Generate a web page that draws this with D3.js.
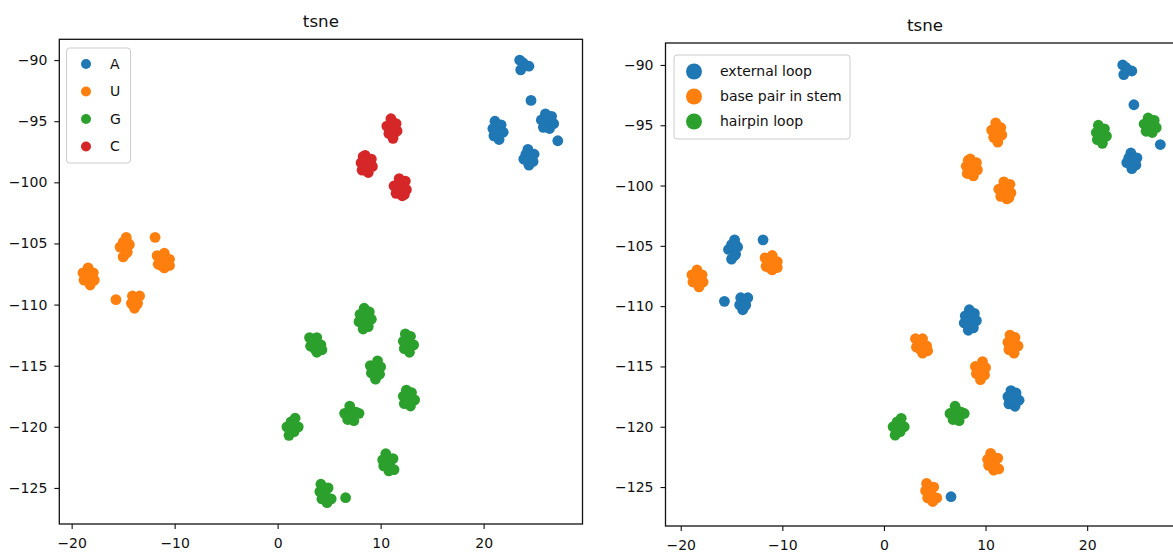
<!DOCTYPE html>
<html lang="en">
<head>
    <meta charset="UTF-8">
    <title>tsne</title>
    <script src="https://cdn.jsdelivr.net/npm/d3@7"></script>
    <style type="text/css">
        html, body {
            margin: 0;
            padding: 0;
            background: white;
            overflow: hidden;
        }
        text {
            font-family: "DejaVu Sans", sans-serif;
            fill: #111;
        }
        .axis text {
            font-size: 14px;
        }
        .axis line {
            stroke: #111;
            stroke-width: 1.1;
        }
        .axis path.domain {
            stroke: none;
        }
        .frame {
            fill: none;
            stroke: #111;
            stroke-width: 1.3;
        }
        .title {
            font-size: 16.7px;
        }
        .legend rect {
            fill: white;
            fill-opacity: 0.8;
            stroke: #cccccc;
            stroke-width: 1;
        }
        .legend text {
            font-size: 14px;
        }
    </style>
</head>
<body>
<svg id="chart" width="1173" height="553"></svg>
<script>
    // points of every t-SNE cluster
    var clusterPoints = [
        [[23.5, -90.0], [23.6, -90.8], [24.0, -90.4], [24.4, -90.5], [23.8, -90.2]],
        [[24.6, -93.3]],
        [[21.1, -95.0], [21.7, -95.3], [21.9, -95.9], [21.5, -96.5], [21.0, -96.2], [20.9, -95.6], [21.4, -95.8], [21.3, -95.3], [21.6, -96.0], [21.1, -95.9]],
        [[26.0, -94.4], [26.6, -94.6], [26.8, -95.2], [26.4, -95.6], [25.8, -95.5], [25.6, -94.9], [26.2, -95.0], [26.3, -94.6], [26.5, -95.3], [25.9, -95.1]],
        [[27.2, -96.6]],
        [[24.3, -97.3], [24.9, -97.7], [24.8, -98.3], [24.4, -98.6], [23.9, -98.1], [24.1, -97.7], [24.5, -97.8], [24.3, -98.3], [24.6, -98.0]],
        [[11.0, -94.8], [11.5, -95.2], [11.6, -95.8], [11.2, -96.4], [10.8, -96.0], [10.6, -95.4], [11.1, -95.6], [11.2, -95.1], [11.3, -96.0], [10.9, -95.6]],
        [[8.5, -97.8], [9.1, -98.1], [9.2, -98.7], [8.8, -99.2], [8.2, -99.0], [8.1, -98.4], [8.6, -98.5], [8.3, -97.9], [8.7, -98.1], [8.9, -98.8], [8.4, -98.7]],
        [[11.8, -99.7], [12.4, -99.9], [12.5, -100.6], [12.1, -101.1], [11.5, -100.9], [11.3, -100.3], [11.9, -100.4], [12.3, -101.0], [12.1, -100.0], [12.2, -100.7], [11.7, -100.7]],
        [[-14.7, -104.5], [-14.4, -105.1], [-14.6, -105.7], [-15.0, -106.1], [-15.3, -105.3], [-15.0, -104.9], [-14.8, -105.3], [-14.7, -105.8], [-14.6, -104.9]],
        [[-11.9, -104.5]],
        [[-11.7, -106.0], [-11.0, -105.8], [-10.5, -106.3], [-10.5, -106.8], [-11.0, -107.0], [-11.6, -106.7], [-11.2, -106.4], [-11.3, -106.1], [-10.8, -106.6], [-11.3, -106.8]],
        [[-18.4, -107.0], [-17.9, -107.4], [-17.8, -108.0], [-18.2, -108.4], [-18.8, -108.0], [-18.9, -107.4], [-18.3, -107.4], [-18.1, -108.0], [-18.5, -107.8]],
        [[-15.7, -109.6]],
        [[-14.1, -109.3], [-13.4, -109.3], [-13.6, -109.9], [-13.9, -110.3], [-14.2, -109.9], [-13.8, -109.6], [-13.7, -110.0]],
        [[8.4, -110.3], [8.9, -110.6], [9.1, -111.2], [8.8, -111.8], [8.3, -112.0], [7.9, -111.4], [8.0, -110.8], [8.5, -111.1], [8.6, -110.6], [8.7, -111.5], [8.2, -111.4]],
        [[3.1, -112.7], [3.8, -112.7], [4.2, -113.3], [4.3, -113.7], [3.8, -113.9], [3.2, -113.4], [3.5, -113.0], [3.9, -113.4], [3.6, -113.6]],
        [[12.4, -112.4], [12.9, -112.6], [13.2, -113.3], [12.8, -113.9], [12.3, -113.6], [12.2, -113.0], [12.7, -112.9], [12.8, -113.4], [12.5, -113.3]],
        [[9.7, -114.6], [10.0, -115.1], [9.9, -115.7], [9.5, -116.1], [9.1, -115.6], [9.0, -115.0], [9.6, -115.0], [9.6, -115.5], [9.3, -115.4]],
        [[12.5, -117.0], [13.0, -117.2], [13.3, -117.8], [12.9, -118.3], [12.3, -118.1], [12.2, -117.5], [12.7, -117.5], [12.8, -117.9], [12.5, -117.8]],
        [[7.0, -118.3], [7.6, -118.8], [7.9, -118.9], [7.4, -119.5], [6.8, -119.4], [6.5, -118.9], [7.2, -118.8], [7.3, -119.1], [6.9, -119.0]],
        [[1.7, -119.3], [2.0, -120.0], [1.6, -120.4], [1.1, -120.7], [0.9, -120.0], [1.3, -119.6], [1.6, -119.8], [1.4, -120.2], [1.2, -120.3]],
        [[10.5, -122.2], [11.2, -122.6], [11.3, -123.5], [10.8, -123.6], [10.3, -123.2], [10.2, -122.7], [10.8, -122.7], [10.9, -123.2], [10.6, -123.1]],
        [[4.2, -124.7], [4.9, -125.0], [5.2, -125.9], [4.8, -126.2], [4.3, -125.9], [4.1, -125.3], [4.6, -125.2], [4.7, -125.7], [4.4, -125.5]],
        [[6.6, -125.8]]
    ];

    // label of each cluster in the two panels
    var clusterBase = ["A", "A", "A", "A", "A", "A",
        "C", "C", "C",
        "U", "U", "U", "U", "U", "U",
        "G", "G", "G", "G", "G", "G", "G", "G", "G", "G"];

    var clusterLoop = ["external loop", "external loop", "hairpin loop", "hairpin loop", "external loop", "external loop",
        "base pair in stem", "base pair in stem", "base pair in stem",
        "external loop", "external loop", "base pair in stem", "base pair in stem", "external loop", "external loop",
        "external loop", "base pair in stem", "base pair in stem", "base pair in stem", "external loop",
        "hairpin loop", "hairpin loop", "base pair in stem", "base pair in stem", "external loop"];

    var baseNames = ["A", "U", "G", "C"];
    var loopNames = ["external loop", "base pair in stem", "hairpin loop"];
    var palette = ["#1f77b4", "#ff7f0e", "#2ca02c", "#d62728"];

    var xTicks = [-20, -10, 0, 10, 20];
    var yTicks = [-90, -95, -100, -105, -110, -115, -120, -125];

    var svg = d3.select("#chart");

    function drawPanel(p) {
        var x = d3.scaleLinear().domain(p.xDomain).range(p.xRange),
            y = d3.scaleLinear().domain(p.yDomain).range(p.yRange);

        var g = svg.append("g");

        // flatten points with their class
        var pts = [];
        p.names.forEach((name, k) => {
            clusterPoints.forEach((c, i) => {
                if (p.labels[i] === name) {
                    c.forEach(d => pts.push({x: d[0], y: d[1], k: k}));
                }
            });
        });

        g.selectAll("circle.dot")
            .data(pts)
            .enter().append("circle")
            .attr("class", "dot")
            .attr("cx", d => x(d.x))
            .attr("cy", d => y(d.y))
            .attr("r", 5.4)
            .attr("fill", d => palette[d.k]);

        g.append("g")
            .attr("class", "axis")
            .attr("transform", "translate(0," + p.yRange[0] + ")")
            .call(d3.axisBottom(x).tickValues(xTicks).tickSize(5).tickPadding(9).tickFormat(d3.format("d")));

        g.append("g")
            .attr("class", "axis")
            .attr("transform", "translate(" + p.xRange[0] + ",0)")
            .call(d3.axisLeft(y).tickValues(yTicks).tickSize(5).tickPadding(7).tickFormat(d3.format("d")));

        g.append("rect")
            .attr("class", "frame")
            .attr("x", p.xRange[0])
            .attr("y", p.yRange[1])
            .attr("width", p.xRange[1] - p.xRange[0])
            .attr("height", p.yRange[0] - p.yRange[1]);

        g.append("text")
            .attr("class", "title")
            .attr("x", (p.xRange[0] + p.xRange[1]) / 2)
            .attr("y", p.yRange[1] - 12)
            .attr("text-anchor", "middle")
            .text("tsne");

        // legend
        var lg = g.append("g").attr("class", "legend");
        lg.append("rect")
            .attr("x", p.legend.x)
            .attr("y", p.legend.y)
            .attr("width", p.legend.w)
            .attr("height", p.legend.h)
            .attr("rx", 3);

        var items = lg.selectAll("g.item")
            .data(p.names)
            .enter().append("g")
            .attr("class", "item")
            .attr("transform", (d, i) => "translate(0," + (p.legend.y0 + i * p.legend.step) + ")");

        items.append("circle")
            .attr("cx", p.legend.mx)
            .attr("cy", 0)
            .attr("r", p.legend.r)
            .attr("fill", (d, i) => palette[i]);

        items.append("text")
            .attr("x", p.legend.tx)
            .attr("dy", "0.35em")
            .text(d => d);
    }

    drawPanel({
        xDomain: [-21.2, 29.6], xRange: [59.3, 582.5],
        yDomain: [-127.95, -88.3], yRange: [524, 39.3],
        names: baseNames, labels: clusterBase,
        legend: {x: 66.5, y: 48, w: 64, h: 115, y0: 64, step: 27.5, mx: 86, r: 5, tx: 110}
    });

    drawPanel({
        xDomain: [-21.5, 29.6], xRange: [665.5, 1184.7],
        yDomain: [-128.23, -88.18], yRange: [526, 43],
        names: loopNames, labels: clusterLoop,
        legend: {x: 674, y: 55, w: 176, h: 84, y0: 71.5, step: 25, mx: 694, r: 8, tx: 720}
    });
</script>
</body>
</html>
